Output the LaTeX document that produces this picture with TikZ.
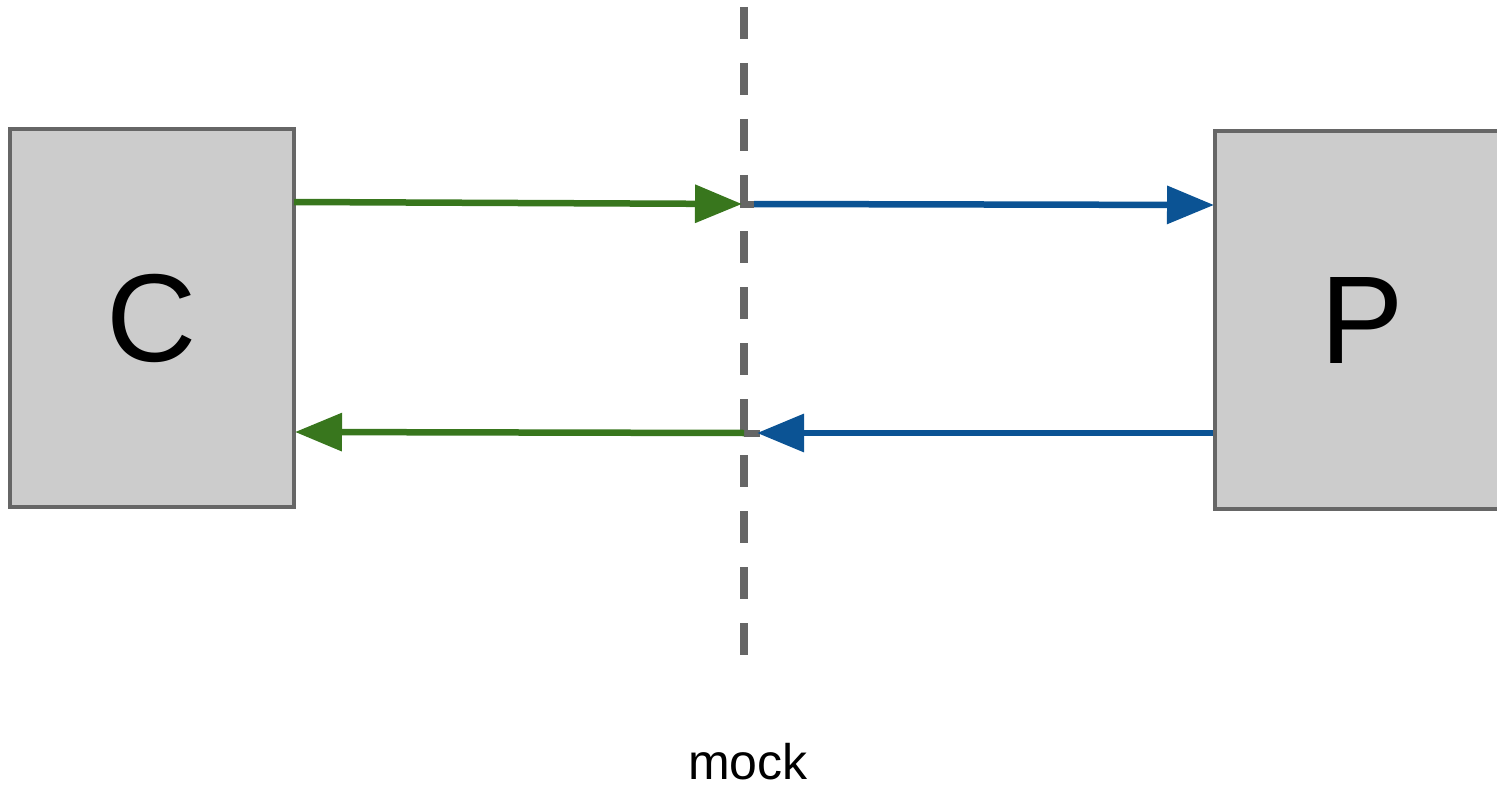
\documentclass[tikz,border=0pt]{standalone}
\usepackage{fontspec}
\setmainfont{Liberation Sans}
\usetikzlibrary{arrows.meta}
\definecolor{boxfill}{HTML}{CCCCCC}
\definecolor{boxline}{HTML}{666666}
\definecolor{garrow}{HTML}{38761D}
\definecolor{barrow}{HTML}{0B5394}
\tikzset{
  box/.style={draw=boxline, fill=boxfill, line width=3.5pt, rectangle, inner sep=0pt, font=\fontsize{125}{125}\selectfont},
  garr/.style={draw=garrow, line width=6.5pt, -{Triangle[length=47pt,width=37pt]}},
  barr/.style={draw=barrow, line width=6.5pt, -{Triangle[length=47pt,width=37pt]}},
  joint/.style={draw=boxline, line width=7pt},
  divider/.style={draw=boxline, line width=8pt, dash pattern=on 32pt off 24pt}
}
\begin{document}
\begin{tikzpicture}[x=1pt,y=-1pt]
\useasboundingbox (0,0) rectangle (1497,789);
\node[box, minimum width=284pt, minimum height=378pt] (C) at (152,318) {C};
\node[box, minimum width=295pt, minimum height=378pt] (P) at (1362.5,320) {P};
\draw[divider] (744,7) -- (744,655);
\node[font=\fontsize{50}{50}\selectfont, anchor=base] (mock) at (748,779) {mock};
\coordinate (g1s) at (294,202);
\coordinate (g1e) at (742,204);
\coordinate (j1a) at (740,204);
\coordinate (j1b) at (754,204);
\coordinate (b1e) at (1214,205);
\coordinate (b2s) at (1213,433);
\coordinate (b2e) at (757,433);
\coordinate (j2a) at (744,433);
\coordinate (j2b) at (760,433);
\coordinate (g2e) at (295,432);
\draw[joint] (j1a) -- (j1b);
\draw[joint] (j2a) -- (j2b);
\draw[garr] (g1s) -- (g1e);
\draw[barr] (j1b) -- (b1e);
\draw[barr] (b2s) -- (b2e);
\draw[garr] (j2a) -- (g2e);
\end{tikzpicture}
\end{document}
